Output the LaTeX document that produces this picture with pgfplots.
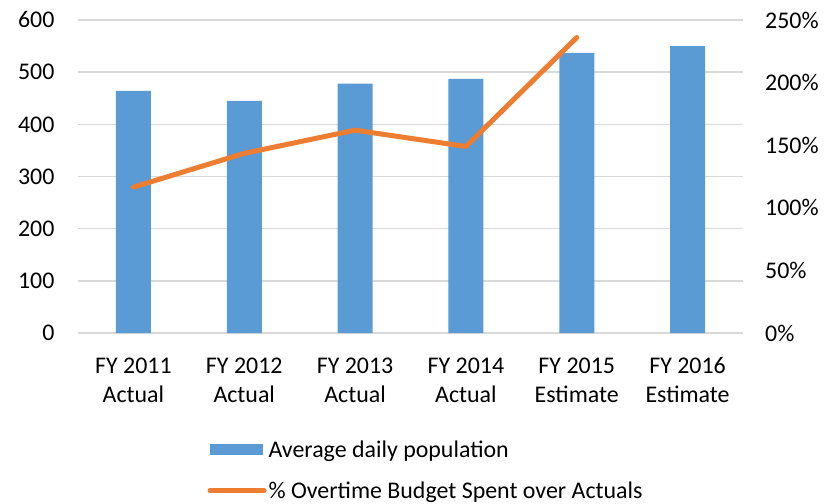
\documentclass[border=0pt]{standalone}
\usepackage{fontspec}
\setmainfont{Carlito}
\usepackage{pgfplots}
\pgfplotsset{compat=1.18}
\definecolor{barblue}{HTML}{5B9BD5}
\definecolor{lineorange}{HTML}{ED7D31}
\definecolor{gridgray}{HTML}{D9D9D9}

\begin{document}
\begin{tikzpicture}
\pgfplotsset{
  every axis/.append style={
    width=665bp, height=313bp, scale only axis,
    xmin=-0.5, xmax=5.5,
    font=\fontsize{24}{28}\selectfont,
    major tick length=0pt,
    tick style={draw=none},
  }
}
\begin{axis}[
  name=ax,
  ymin=0, ymax=600,
  ytick={0,100,...,600},
  yticklabels={0,100,200,300,400,500,600},
  axis y line*=left,
  axis x line*=bottom,
  y axis line style={draw=none},
  x axis line style={draw=gridgray, line width=1.5bp},
  ymajorgrids,
  grid style={draw=gridgray, line width=1.5bp},
  xtick={0,...,5},
  xticklabels={FY 2011\strut\\Actual\strut, FY 2012\strut\\Actual\strut, FY 2013\strut\\Actual\strut, FY 2014\strut\\Actual\strut, FY 2015\strut\\Estimate\strut, FY 2016\strut\\Estimate\strut},
  xticklabel style={align=center, yshift=-17bp, font=\fontsize{24}{29}\selectfont},
  yticklabel style={xshift=-20bp},
]
\addplot[ybar, bar width=35bp, fill=barblue, draw=none] coordinates {
  (0,464) (1,445) (2,478) (3,487) (4,537) (5,550)
};
\end{axis}
\begin{axis}[
  name=ax2,
  ymin=0, ymax=250,
  ytick={0,50,...,250},
  yticklabels={},
  axis y line*=right,
  axis x line=none,
  y axis line style={draw=none},
  clip=false,
  legend style={draw=none, fill=none, at={(0.19,-0.33)}, anchor=north west,
    font=\fontsize{24}{28}\selectfont, row sep=19bp, cells={anchor=west}},
  legend cell align=left,
]
\addlegendimage{legend image code/.code={\fill[barblue] (0bp,-5bp) rectangle (52bp,5bp);}}
\addlegendentry{Average daily population}
\addplot[lineorange, line width=5bp, line cap=round, line join=round,
  legend image code/.code={\draw[lineorange, line width=5bp, line cap=round] (0bp,0bp) -- (54bp,0bp);}]
  coordinates {
  (0,116.5) (1,143.5) (2,162) (3,149) (4,236)
};
\addlegendentry{\% Overtime Budget Spent over Actuals}
% right tick labels at the axis's tick positions
\pgfplotsinvokeforeach{0,50,100,150,200,250}{
  \node[anchor=west, inner sep=0pt, font=\fontsize{24}{28}\selectfont]
    at (axis cs:5.5,#1) [xshift=22bp] {#1\%};
}
\end{axis}
\path[use as bounding box] ([xshift=-78bp,yshift=-171bp]ax.south west) rectangle ([xshift=85bp,yshift=20bp]ax.north east);
\end{tikzpicture}
\end{document}
